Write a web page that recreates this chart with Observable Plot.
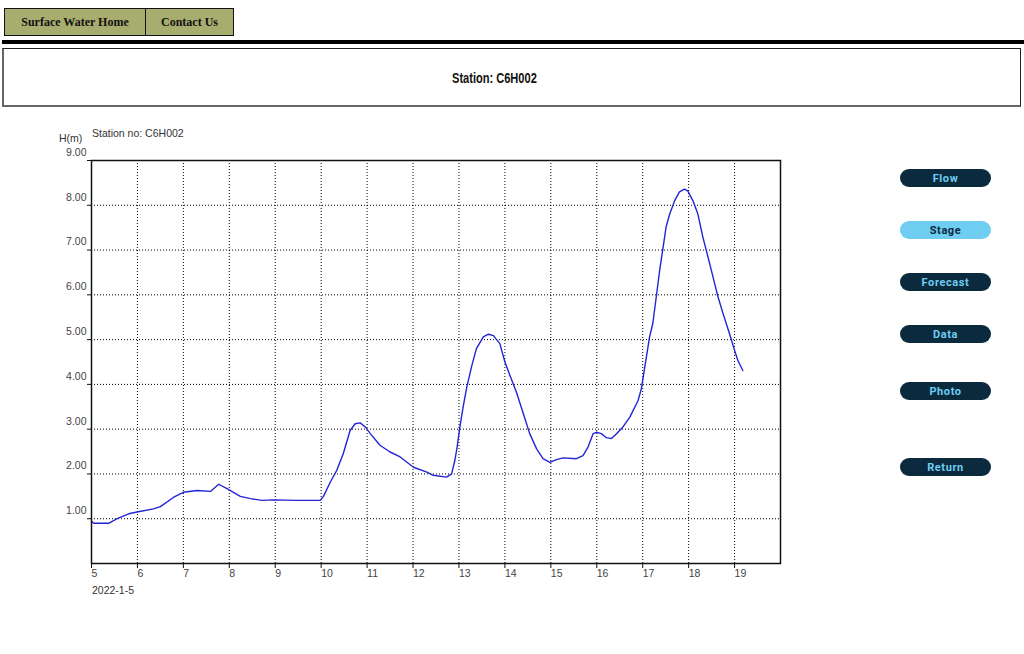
<!DOCTYPE html>
<html><head><meta charset="utf-8">
<script src="https://cdn.jsdelivr.net/npm/d3@7"></script>
<script src="https://cdn.jsdelivr.net/npm/@observablehq/plot@0.6"></script>
<style>
html,body{margin:0;padding:0;background:#fff;width:1024px;height:654px;overflow:hidden;position:relative;font-family:"Liberation Sans",Arial,sans-serif}
.nav{position:absolute;top:8px;height:28px;background:#a7ad6e;border:1.5px solid #111;font:bold 12px "Liberation Serif","Times New Roman",serif;color:#111;display:flex;align-items:center;justify-content:center;box-sizing:border-box}
#bar{position:absolute;left:2px;top:40px;width:1022px;height:4px;background:#000}
#box{position:absolute;left:2px;top:48px;width:1019px;height:59px;border:1px solid #222;border-left:2px solid #666;border-bottom:2px solid #666;box-sizing:border-box}
#title{position:absolute;left:452px;top:70px;font:bold 14px "Liberation Sans",Arial,sans-serif;color:#111;white-space:nowrap;transform:scaleX(0.79);transform-origin:left center}
.lbl{position:absolute;font:10.5px "Liberation Sans",Arial,sans-serif;color:#333;white-space:nowrap}
#chart{position:absolute;left:0;top:120px}
.pill{position:absolute;left:900px;width:91px;height:18px;border-radius:9px;background:#0b2a3e;color:#6fcdf2;font:bold 11px Roboto,"Open Sans",sans-serif;letter-spacing:0.6px;display:flex;align-items:center;justify-content:center}
.pill.on{background:#6fcdf2;color:#0b2a3e}
</style></head>
<body>
<div class="nav" style="left:4px;width:142px">Surface Water Home</div>
<div class="nav" style="left:145px;width:89px">Contact Us</div>
<div id="bar"></div>
<div id="box"></div>
<div id="title">Station: C6H002</div>
<div class="lbl" style="left:59px;top:132px">H(m)</div>
<div class="lbl" style="left:92px;top:127px">Station no: C6H002</div>
<div id="chart"></div>
<div class="lbl" style="left:92px;top:584px">2022-1-5</div>
<div class="pill" style="top:169px">Flow</div>
<div class="pill on" style="top:221px">Stage</div>
<div class="pill" style="top:273px">Forecast</div>
<div class="pill" style="top:325px">Data</div>
<div class="pill" style="top:382px">Photo</div>
<div class="pill" style="top:458px">Return</div>
<script>
// Day of January 2022 (fractional) and water stage H (m)
const day = [5.0, 5.05, 5.38, 5.56, 5.81, 5.99, 6.35, 6.5, 6.79, 7.0, 7.3, 7.59, 7.77, 7.95, 8.24, 8.46, 8.71, 8.96, 9.47, 9.98,
  10.05, 10.2, 10.34, 10.48, 10.63, 10.74, 10.85, 10.96, 11.07, 11.28, 11.5, 11.72, 12.01, 12.3, 12.44, 12.73, 12.84, 12.91, 12.96,
  13.02, 13.09, 13.17, 13.28, 13.38, 13.53, 13.64, 13.75, 13.89, 14.0, 14.11, 14.25, 14.4, 14.54, 14.69, 14.83, 14.98,
  15.12, 15.27, 15.56, 15.7, 15.81, 15.92, 15.99, 16.1, 16.21, 16.32, 16.43, 16.57, 16.72, 16.9, 16.97,
  17.04, 17.15, 17.22, 17.3, 17.37, 17.44, 17.51, 17.59, 17.7, 17.8, 17.91, 17.98, 18.09, 18.2, 18.31, 18.42, 18.53, 18.64, 18.75, 18.89,
  19.0, 19.07, 19.18];
const stage = [0.94, 0.9, 0.9, 1.0, 1.11, 1.15, 1.22, 1.27, 1.48, 1.59, 1.63, 1.61, 1.77, 1.67, 1.5, 1.45, 1.41, 1.42, 1.41, 1.41,
  1.5, 1.82, 2.08, 2.45, 2.97, 3.12, 3.14, 3.05, 2.9, 2.64, 2.49, 2.38, 2.15, 2.04, 1.97, 1.93, 2.0, 2.3, 2.6,
  3.05, 3.49, 3.94, 4.42, 4.8, 5.06, 5.12, 5.09, 4.91, 4.5, 4.2, 3.83, 3.35, 2.9, 2.56, 2.34, 2.26,
  2.32, 2.36, 2.34, 2.41, 2.6, 2.9, 2.93, 2.9, 2.81, 2.79, 2.9, 3.05, 3.27, 3.64, 3.9,
  4.35, 5.06, 5.36, 5.99, 6.55, 7.03, 7.52, 7.81, 8.11, 8.3, 8.36, 8.32, 8.11, 7.81, 7.29, 6.85, 6.4, 5.95, 5.58, 5.13,
  4.76, 4.54, 4.31];
const xTicks = [5, 6, 7, 8, 9, 10, 11, 12, 13, 14, 15, 16, 17, 18, 19];
const yTicks = [1, 2, 3, 4, 5, 6, 7, 8, 9];

const data = day.map((d, i) => ({day: d, h: stage[i]}));

const chart = Plot.plot({
  width: 800,
  height: 480,
  marginLeft: 91,
  marginRight: 20,
  marginTop: 40,
  marginBottom: 37,
  style: {fontFamily: '"Liberation Sans", Arial, sans-serif', fontSize: "10.5px", color: "#333", background: "transparent"},
  x: {domain: [5, 20]},
  y: {domain: [0, 9]},
  marks: [
    Plot.gridX(xTicks.slice(1), {stroke: "#000", strokeOpacity: 1, strokeDasharray: "1,2"}),
    Plot.gridY(yTicks.slice(0, -1), {stroke: "#000", strokeOpacity: 1, strokeDasharray: "1,2"}),
    Plot.line(data, {x: "day", y: "h", stroke: "#2424d6", strokeWidth: 1.4}),
    Plot.frame({stroke: "#111", strokeWidth: 1.5}),
    Plot.axisY(yTicks, {tickSize: 4, tickFormat: () => "", label: null, stroke: "#111"}),
    Plot.axisY(yTicks, {tickSize: 0, tickPadding: 5, tickFormat: d3.format(".2f"), label: null, dy: -8, fill: "#444"}),
    Plot.axisX(xTicks, {tickSize: 5, tickFormat: () => "", label: null, stroke: "#111"}),
    Plot.axisX(xTicks, {tickSize: 0, tickPadding: 6, tickFormat: d3.format("d"), label: null, textAnchor: "start", dx: 0, fill: "#444"})
  ]
});
document.getElementById("chart").append(chart);
</script>
</body></html>
